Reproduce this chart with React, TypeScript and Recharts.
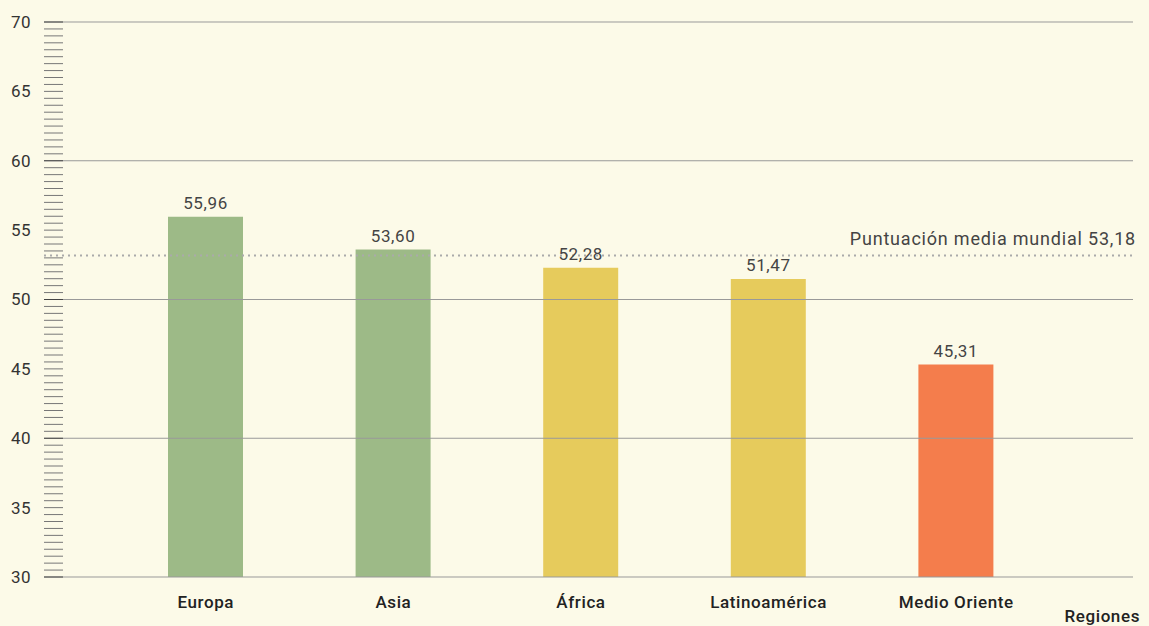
import { Bar, BarChart, Cell, LabelList, ReferenceLine, XAxis, YAxis } from "recharts";

const regions = ["Europa", "Asia", "África", "Latinoamérica", "Medio Oriente"];
const scores = [55.96, 53.6, 52.28, 51.47, 45.31];
const barColors = ["#9dba87", "#9dba87", "#e6cb5c", "#e6cb5c", "#f47d4c"];
const worldAverage = 53.18;
const gridValues = [30, 40, 50, 60, 70];
const minorTicks = Array.from({ length: 81 }, (_, i) => 30 + i * 0.5);

const fmt = (v: number) => v.toFixed(2).replace(".", ",");
const FONT = "Roboto, 'DejaVu Sans', sans-serif";

function YTick(props: any) {
  const { x, y, payload } = props;
  const v = payload.value as number;
  const major = v % 5 === 0;
  return (
    <g>
      <line x1={x} x2={x + 19} y1={y} y2={y} stroke={v % 10 === 0 ? "#444" : "#777"} strokeWidth={1} />
      {major && (
        <text x={x - 13} y={y} dy="0.35em" textAnchor="end" fill="#333" fontSize={17} letterSpacing={0.5} fontFamily={FONT}>
          {v}
        </text>
      )}
    </g>
  );
}

export default function App() {
  const data = regions.map((region, i) => ({ region, score: scores[i] }));
  return (
    <div style={{ position: "fixed", left: 0, top: 0, width: 1149, height: 626, background: "#fcfae8" }}>
      <BarChart width={1149} height={626} data={data} margin={{ top: 22, right: 16, bottom: 0, left: 0 }}>
        <XAxis
          dataKey="region"
          height={49}
          axisLine={false}
          tickLine={false}
          tickSize={0}
          tickMargin={19}
          padding={{ left: 68, right: 83 }}
          tick={{ fill: "#222", fontSize: 17, fontWeight: 500, letterSpacing: 0.6, fontFamily: FONT }}
          label={({ viewBox }: any) => (
            <text
              x={viewBox.x + viewBox.width + 7}
              y={viewBox.y + 45}
              textAnchor="end"
              fill="#222"
              fontSize={17}
              fontWeight={500}
              letterSpacing={0.6}
              fontFamily={FONT}
            >
              Regiones
            </text>
          )}
        />
        <YAxis
          width={44}
          domain={[30, 70]}
          ticks={minorTicks}
          interval={0}
          allowDataOverflow
          axisLine={false}
          tickLine={false}
          tickSize={0}
          tickMargin={0}
          tick={<YTick />}
        />
        {gridValues.map((v) => (
          <ReferenceLine key={v} y={v} stroke="#999" strokeWidth={1} />
        ))}
        <Bar dataKey="score" barSize={75} isAnimationActive={false}>
          {data.map((d, i) => (
            <Cell key={d.region} fill={barColors[i]} />
          ))}
          <LabelList
            dataKey="score"
            position="top"
            offset={8}
            formatter={(v: any) => fmt(Number(v))}
            style={{ fill: "#444", fontSize: 17, letterSpacing: 0.6, fontFamily: FONT }}
          />
        </Bar>
        <ReferenceLine
          y={worldAverage}
          stroke="#aaa"
          strokeWidth={2}
          strokeDasharray="2 4"
          label={({ viewBox }: any) => (
            <text
              x={viewBox.x + viewBox.width + 3}
              y={viewBox.y - 10}
              textAnchor="end"
              fill="#444"
              fontSize={18}
              letterSpacing={0.8}
              fontFamily={FONT}
            >
              {`Puntuación media mundial ${fmt(worldAverage)}`}
            </text>
          )}
        />
      </BarChart>
    </div>
  );
}
